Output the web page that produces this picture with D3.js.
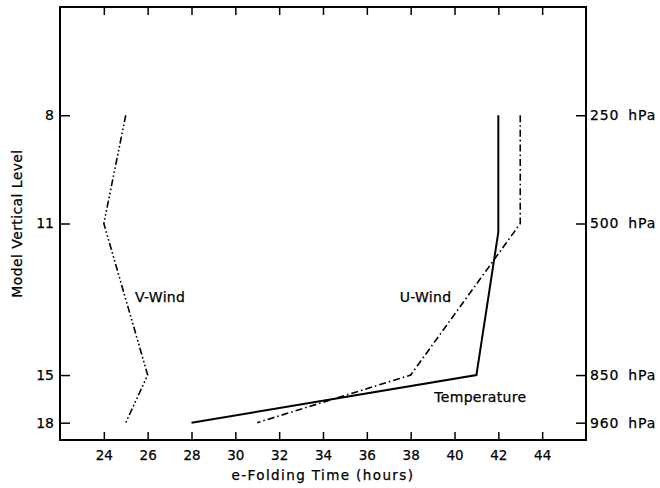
<!DOCTYPE html>
<html>
<head>
<meta charset="utf-8">
<script src="https://cdn.jsdelivr.net/npm/d3@7"></script>
<style>
  html, body { margin: 0; padding: 0; background: #fff; }
  svg text { font-family: "DejaVu Sans", sans-serif; fill: #000; stroke: #000; stroke-width: 0.25px; }
</style>
</head>
<body>
<svg id="chart" width="660" height="488"></svg>
<script>
// Model levels and the pressure at which each one sits
const levels = [8, 11, 15, 18];
const pressures = [250, 500, 850, 960];
const pressureLabels = ["250 hPa", "500 hPa", "850 hPa", "960 hPa"];

// e-folding time (hours) at each level
const vWind = [25, 24, 26, 25];
const uWind = [43, 43, 38, 31];
const temperature = [42, 42, 41, 28];
const temperaturePressures = [250, 520, 850, 960];

// x-axis ticks
const timeTicks = [24, 26, 28, 30, 32, 34, 36, 38, 40, 42, 44];

// series labels: [time, pressure]
const seriesLabels = [
  { text: "V-Wind", at: [25.42, 681] },
  { text: "U-Wind", at: [37.5, 681] },
  { text: "Temperature", at: [39.08, 912] }
];

const margin = { left: 60, right: 74, top: 7, bottom: 48 };
const W = 660, H = 488;
const x = d3.scaleLinear().domain([22, 46]).range([margin.left, W - margin.right]);
const y = d3.scaleLinear().domain([0, 1000]).range([margin.top, H - margin.bottom]);

const svg = d3.select("#chart");

// frame
svg.append("rect")
  .attr("x", x(22)).attr("y", y(0))
  .attr("width", x(46) - x(22)).attr("height", y(1000) - y(0))
  .attr("fill", "none").attr("stroke", "#000").attr("stroke-width", 2);

function styleAxis(g) {
  g.select(".domain").remove();
  g.selectAll(".tick line").attr("stroke", "#000").attr("stroke-width", 1.5);
  g.selectAll(".tick text").attr("font-size", 13.5).attr("font-family", "DejaVu Sans").attr("fill", "#000");
}

// bottom axis with inward ticks
svg.append("g")
  .attr("transform", `translate(0,${y(1000)})`)
  .call(d3.axisBottom(x).tickValues(timeTicks).tickSizeInner(-8).tickSizeOuter(0).tickPadding(10))
  .call(styleAxis);

// top axis, ticks only
svg.append("g")
  .attr("transform", `translate(0,${y(0)})`)
  .call(d3.axisTop(x).tickValues(timeTicks).tickSizeInner(-8).tickSizeOuter(0).tickFormat(""))
  .call(styleAxis);

// left axis: model levels
svg.append("g")
  .attr("transform", `translate(${x(22)},0)`)
  .call(d3.axisLeft(y).tickValues(pressures).tickSizeInner(-10).tickSizeOuter(0)
    .tickPadding(6).tickFormat((d, i) => levels[i]))
  .call(styleAxis)
  .selectAll(".tick text").attr("font-size", 14);

// right axis: pressure
svg.append("g")
  .attr("transform", `translate(${x(46)},0)`)
  .call(d3.axisRight(y).tickValues(pressures).tickSizeInner(-10).tickSizeOuter(0)
    .tickPadding(4).tickFormat((d, i) => pressureLabels[i]))
  .call(styleAxis)
  .selectAll(".tick text").attr("font-size", 14).attr("letter-spacing", 0.8).attr("word-spacing", 4);

// axis titles
svg.append("text")
  .attr("x", (x(22) + x(46)) / 2).attr("y", 480)
  .attr("text-anchor", "middle").attr("font-size", 13.5).attr("letter-spacing", 1.4)
  .text("e-Folding Time (hours)");

svg.append("text")
  .attr("transform", `translate(21.5,${(y(0) + y(1000)) / 2}) rotate(-90)`)
  .attr("text-anchor", "middle").attr("font-size", 14).attr("letter-spacing", 0.4)
  .text("Model Vertical Level");

// profiles
const line = d3.line().x(d => x(d[0])).y(d => y(d[1]));
const series = [
  { values: vWind, p: pressures, width: 1.6, dash: "7,2.5,1.6,2.5,1.6,2.5,1.6,2.5" },
  { values: uWind, p: pressures, width: 1.6, dash: "7,3,1.6,3" },
  { values: temperature, p: temperaturePressures, width: 2, dash: null }
];
series.forEach(s => {
  svg.append("path")
    .datum(s.values.map((v, i) => [v, s.p[i]]))
    .attr("d", line)
    .attr("fill", "none").attr("stroke", "#000")
    .attr("stroke-width", s.width)
    .attr("stroke-dasharray", s.dash);
});

seriesLabels.forEach(l => {
  svg.append("text")
    .attr("x", x(l.at[0])).attr("y", y(l.at[1]))
    .attr("font-size", 14).attr("letter-spacing", 0.3)
    .text(l.text);
});
</script>
</body>
</html>
